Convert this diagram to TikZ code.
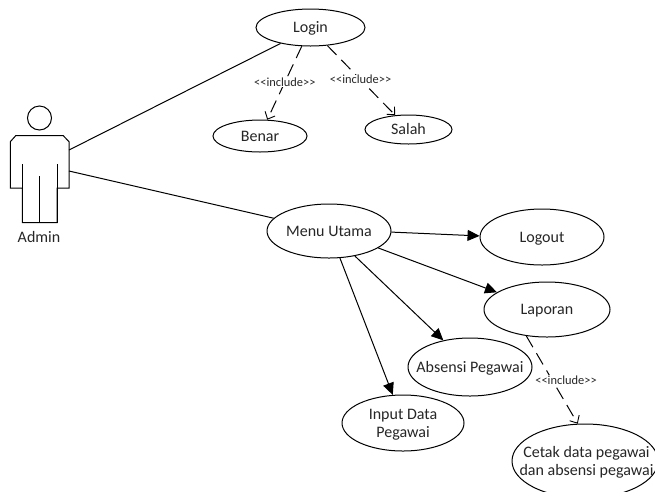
\documentclass[tikz,border=0pt]{standalone}
\usepackage{fontspec}
\setmainfont{Carlito}
\usetikzlibrary{shapes.geometric,arrows.meta}
\newcommand\uctext[1]{\smash{\makebox[0pt]{\raisebox{-6pt}{\begin{tabular}{@{}c@{}}#1\end{tabular}}}}}
\tikzset{
 x=1pt,y=-1pt,
 usecase/.style={draw=black,ellipse,inner sep=0pt,line width=1pt,align=center,font=\fontsize{16}{18.5}\selectfont,text=black!85},
 assoc/.style={draw=black,line width=1pt},
 navi/.style={assoc,-{Triangle[length=12pt,width=11pt]}},
 incl/.style={draw=black,line width=1pt,dash pattern=on 13pt off 7pt,-{Straight Barb[length=6pt,width=11pt,line width=.9pt]}},
 incllabel/.style={fill=white,inner sep=.5pt,font=\fontsize{12.4}{14}\selectfont,text=black!85},
 actorline/.style={draw=black,line width=1pt,line join=miter},
}
\begin{document}
\begin{tikzpicture}
\useasboundingbox (0,0) rectangle (655,491);
\clip (0,0) rectangle (655,491);
\fill[white] (0,0) rectangle (655,491);
% actor
\draw[actorline] (39.5,118) circle (12);
\draw[actorline] (10.3,141.7) -- (15.7,135.7) -- (63.3,135.7) -- (69,141.7) -- (69,188) -- (57,188) -- (57,222.7) -- (22.3,222.7) -- (22.3,188) -- (10.3,188) -- cycle;
\draw[actorline] (22.3,164.3) -- (22.3,222.7) (57,164.3) -- (57,222.7) (39.3,176) -- (39.3,222.7);
\node[font=\fontsize{16}{18.5}\selectfont,text=black!85,inner sep=0pt] (admin) at (39,237) {Admin};
\coordinate (actorA) at (69,150);
\coordinate (actorB) at (69,171);
% use cases
\node[usecase,minimum width=109pt,minimum height=37pt] (login) at (310.5,27.5) {\uctext{Login}};
\node[usecase,minimum width=94pt,minimum height=32pt] (benar) at (260,136) {\uctext{Benar}};
\node[usecase,minimum width=87pt,minimum height=29pt] (salah) at (408.5,129.5) {\uctext{Salah}};
\node[usecase,minimum width=124pt,minimum height=54pt] (menu) at (329,231) {\uctext{Menu Utama}};
\node[usecase,minimum width=124pt,minimum height=56pt] (logout) at (542,237) {\uctext{Logout}};
\node[usecase,minimum width=126pt,minimum height=55pt] (laporan) at (547,309.5) {\uctext{Laporan}};
\node[usecase,minimum width=124pt,minimum height=58pt] (absensi) at (470,367) {\uctext{Absensi Pegawai}};
\node[usecase,minimum width=122pt,minimum height=56pt] (input) at (403,423) {\uctext{Input Data\\Pegawai}};
\node[usecase,minimum width=146pt,minimum height=74pt] (cetak) at (585,461) {\hspace{3pt}\uctext{Cetak data pegawai\\dan absensi pegawai}};
% connectors
\draw[assoc] (actorA) -- (login.208);
\draw[assoc] (actorB) -- (menu.167);
\draw[navi] (menu.359) -- (logout.179);
\draw[navi] (menu.341) -- (laporan.161);
\draw[navi] (menu.316) -- (absensi.135);
\draw[navi] (menu.292) -- (input.110);
\draw[incl] (login.245) -- node[incllabel,pos=.49] (l1) {<{}<include>{}>} (benar.66);
\draw[incl] (login.313) -- node[incllabel,pos=.49] (l2) {<{}<include>{}>} (salah.133);
\draw[incl] (laporan.232) -- node[incllabel,pos=.5,xshift=14pt] (l3) {<{}<include>{}>} (cetak.101);
\end{tikzpicture}
\end{document}
